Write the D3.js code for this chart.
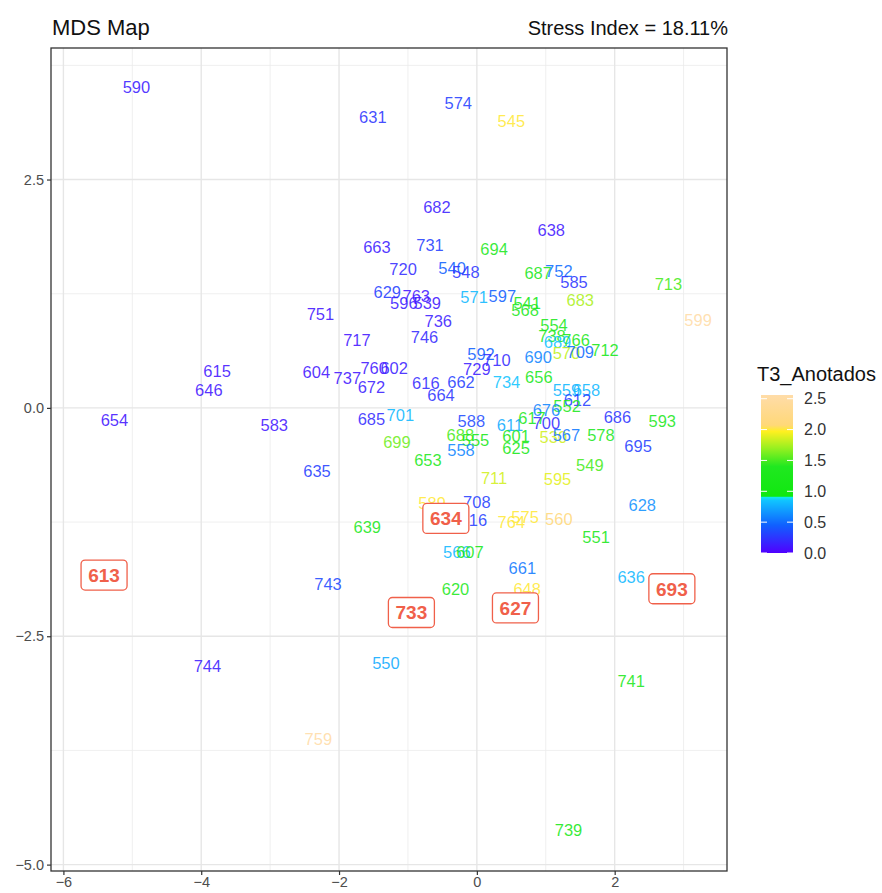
<!DOCTYPE html>
<html>
<head>
<meta charset="utf-8">
<script src="https://cdn.jsdelivr.net/npm/d3@7"></script>
<style>
body { margin: 0; background: #fff; }
text { font-family: "Liberation Sans", Arial, sans-serif; }
</style>
</head>
<body>
<svg id="chart" width="882" height="893"></svg>
<script>
// point labels, MDS coordinates and T3_Anotados value
var ids = ["590","631","574","545","682","638","663","731","694","720","540","548","687","752","585","683","713","599",
  "629","763","596","539","571","597","541","568","751","736","554","717","746","738","689","766","570","709","712","690",
  "615","646","604","737","760","602","672","616","664","662","592","729","710","734","656","559","658","612","552","676",
  "617","700","686","593","701","685","654","583","588","611","601","625","688","555","558","699","653","530","567","578",
  "695","549","595","711","635","628","589","708","716","764","575","560","551","639","566","607","661","648","620","636",
  "743","744","550","741","759","739"];
var dim1 = [-4.94,-1.51,-0.27,0.50,-0.58,1.08,-1.45,-0.68,0.25,-1.07,-0.36,-0.16,0.89,1.19,1.41,1.50,2.78,3.21,
  -1.30,-0.88,-1.06,-0.72,-0.04,0.37,0.73,0.70,-2.27,-0.56,1.12,-1.74,-0.76,1.09,1.17,1.44,1.30,1.50,1.86,0.89,
  -3.77,-3.89,-2.33,-1.88,-1.49,-1.20,-1.53,-0.74,-0.52,-0.23,0.06,0.00,0.29,0.43,0.90,1.30,1.59,1.46,1.31,1.01,
  0.80,1.01,2.04,2.69,-1.11,-1.53,-5.26,-2.94,-0.08,0.48,0.57,0.57,-0.24,-0.02,-0.23,-1.16,-0.71,1.11,1.30,1.80,
  2.34,1.64,1.17,0.25,-2.32,2.40,-0.65,0.00,-0.05,0.50,0.70,1.19,1.73,-1.59,-0.29,-0.10,0.66,0.73,-0.31,2.24,
  -2.16,-3.91,-1.32,2.24,-2.30,1.33];
var dim2 = [3.51,3.18,3.34,3.14,2.20,1.95,1.76,1.78,1.74,1.52,1.53,1.49,1.48,1.50,1.38,1.18,1.36,0.96,
  1.27,1.22,1.15,1.15,1.21,1.22,1.15,1.07,1.03,0.95,0.91,0.74,0.78,0.79,0.72,0.74,0.60,0.61,0.63,0.56,
  0.40,0.19,0.39,0.33,0.44,0.44,0.23,0.27,0.14,0.28,0.59,0.43,0.52,0.28,0.34,0.20,0.20,0.09,0.02,-0.02,
  -0.11,-0.17,-0.10,-0.14,-0.08,-0.12,-0.13,-0.19,-0.14,-0.19,-0.31,-0.44,-0.30,-0.35,-0.46,-0.37,-0.57,-0.32,-0.30,-0.30,
  -0.42,-0.63,-0.78,-0.77,-0.69,-1.06,-1.04,-1.03,-1.23,-1.25,-1.19,-1.22,-1.41,-1.31,-1.58,-1.58,-1.75,-1.98,-1.98,-1.85,
  -1.93,-2.83,-2.79,-2.99,-3.63,-4.62];
var t3 = [0.15,0.25,0.3,2.0,0.15,0.1,0.15,0.3,1.3,0.2,0.45,0.25,1.25,0.5,0.25,1.75,1.5,2.55,
  0.3,0.1,0.15,0.1,0.8,0.45,1.1,1.35,0.1,0.15,1.3,0.1,0.2,1.4,0.85,1.2,1.8,0.5,1.2,0.6,
  0.1,0.1,0.1,0.1,0.1,0.15,0.15,0.2,0.25,0.3,0.45,0.15,0.2,0.85,1.2,0.8,0.8,0.3,1.3,0.6,
  1.3,0.2,0.25,1.3,0.8,0.2,0.1,0.1,0.35,0.75,1.2,1.2,1.5,1.2,0.6,1.6,1.4,1.85,0.55,1.3,
  0.3,1.5,1.9,1.85,0.3,0.65,2.0,0.3,0.3,2.0,2.0,2.1,1.25,1.3,0.8,1.2,0.55,2.0,1.3,0.8,
  0.35,0.15,0.75,1.4,2.55,1.2];

// highlighted (boxed) labels
var hiIds = ["613","634","733","627","693"];
var hiDim1 = [-5.41,-0.45,-0.95,0.56,2.83];
var hiDim2 = [-1.83,-1.21,-2.24,-2.19,-1.98];

var xTicks = [-6,-4,-2,0,2];
var yTicks = [2.5,0,-2.5,-5];
var legendTicks = [0,0.5,1,1.5,2,2.5];
var colStops = [0,0.45,0.85,0.9,0.92,1.4,1.7,1.97,2.07,2.56];
var colValues = ["#5000ff","#1060ff","#10c4ff","#10e6f0","#10e810","#20e820","#98f020","#fff020","#ffd878","#ffdca8"];

var svg = d3.select("#chart");
var L = 51, R = 727, T = 48, B = 871;

var x = d3.scaleLinear().domain([-6.18, 3.63]).range([L, R]);
var y = d3.scaleLinear().domain([-5.07, 3.94]).range([B, T]);
var col = d3.scaleLinear().domain(colStops).range(colValues);

// grid
var grid = svg.append("g");
var xMinor = [-5,-3,-1,1,3], yMinor = [3.75,1.25,-1.25,-3.75];
grid.selectAll(".xmin").data(xMinor).enter().append("line").attr("class", "xmin")
  .attr("x1", function(d) { return x(d); }).attr("x2", function(d) { return x(d); })
  .attr("y1", T).attr("y2", B).attr("stroke", "#ebebeb").attr("stroke-width", 0.8);
grid.selectAll(".ymin").data(yMinor).enter().append("line").attr("class", "ymin")
  .attr("y1", function(d) { return y(d); }).attr("y2", function(d) { return y(d); })
  .attr("x1", L).attr("x2", R).attr("stroke", "#ebebeb").attr("stroke-width", 0.8);
grid.selectAll(".xmaj").data(xTicks).enter().append("line").attr("class", "xmaj")
  .attr("x1", function(d) { return x(d); }).attr("x2", function(d) { return x(d); })
  .attr("y1", T).attr("y2", B).attr("stroke", "#e6e6e6").attr("stroke-width", 1.4);
grid.selectAll(".ymaj").data(yTicks).enter().append("line").attr("class", "ymaj")
  .attr("y1", function(d) { return y(d); }).attr("y2", function(d) { return y(d); })
  .attr("x1", L).attr("x2", R).attr("stroke", "#e6e6e6").attr("stroke-width", 1.4);

// axes
var xAxis = svg.append("g").attr("transform", "translate(0," + B + ")")
  .call(d3.axisBottom(x).tickValues(xTicks).tickSize(4).tickPadding(2).tickFormat(d3.format("d")));
var yAxis = svg.append("g").attr("transform", "translate(" + L + ",0)")
  .call(d3.axisLeft(y).tickValues(yTicks).tickSize(4).tickPadding(3).tickFormat(d3.format(".1f")));
[xAxis, yAxis].forEach(function(a) {
  a.select(".domain").remove();
  a.selectAll(".tick line").attr("stroke", "#333").attr("stroke-width", 1.2);
  a.selectAll(".tick text").attr("fill", "#4d4d4d").style("font-size", "14.5px")
    .style("font-family", "'Liberation Sans', Arial, sans-serif");
});

// text labels
var pts = ids.map(function(d, i) { return {id: d, x: dim1[i], y: dim2[i], v: t3[i]}; });
svg.append("g").selectAll("text").data(pts).enter().append("text")
  .attr("x", function(d) { return x(d.x); })
  .attr("y", function(d) { return y(d.y); })
  .attr("dy", "0.36em")
  .attr("text-anchor", "middle")
  .style("font-size", "16.5px")
  .attr("fill", function(d) { return col(d.v); })
  .attr("fill-opacity", 0.88)
  .text(function(d) { return d.id; });

// boxed labels
var hi = hiIds.map(function(d, i) { return {id: d, x: hiDim1[i], y: hiDim2[i]}; });
var hg = svg.append("g").selectAll("g").data(hi).enter().append("g")
  .attr("transform", function(d) { return "translate(" + x(d.x) + "," + y(d.y) + ")"; });
hg.append("rect").attr("x", -23).attr("y", -15).attr("width", 46).attr("height", 30)
  .attr("rx", 4).attr("fill", "#fff").attr("stroke", "#f0604a").attr("stroke-width", 1.3);
hg.append("text").attr("text-anchor", "middle").attr("dy", "0.36em")
  .style("font-size", "19px").style("font-weight", "bold").attr("fill", "#f0604a")
  .text(function(d) { return d.id; });

// panel border
svg.append("rect").attr("x", L).attr("y", T).attr("width", R - L).attr("height", B - T)
  .attr("fill", "none").attr("stroke", "#333").attr("stroke-width", 1.3);

// titles
svg.append("text").attr("x", 52).attr("y", 35).style("font-size", "22px").attr("fill", "#111").text("MDS Map");
svg.append("text").attr("x", 728).attr("y", 35).attr("text-anchor", "end").style("font-size", "20px")
  .attr("fill", "#111").text("Stress Index = 18.11%");

// colour bar legend
var lg = svg.append("g");
var cb = d3.scaleLinear().domain([0, 2.56]).range([553, 395]);
var grad = svg.append("defs").append("linearGradient").attr("id", "cbar")
  .attr("x1", 0).attr("y1", 1).attr("x2", 0).attr("y2", 0);
grad.selectAll("stop").data(colStops).enter().append("stop")
  .attr("offset", function(d) { return d / 2.56; })
  .attr("stop-color", function(d, i) { return colValues[i]; });
lg.append("text").attr("x", 757).attr("y", 381).style("font-size", "20px").attr("fill", "#111").text("T3_Anotados");
lg.append("rect").attr("x", 761).attr("y", 395).attr("width", 32).attr("height", 158).attr("fill", "url(#cbar)");
lg.selectAll(".tkl").data(legendTicks).enter().append("line").attr("class", "tkl")
  .attr("x1", 761).attr("x2", 767).attr("y1", function(d) { return cb(d); }).attr("y2", function(d) { return cb(d); })
  .attr("stroke", "#fff").attr("stroke-width", 1);
lg.selectAll(".tkr").data(legendTicks).enter().append("line").attr("class", "tkr")
  .attr("x1", 787).attr("x2", 793).attr("y1", function(d) { return cb(d); }).attr("y2", function(d) { return cb(d); })
  .attr("stroke", "#fff").attr("stroke-width", 1);
lg.selectAll(".tlab").data(legendTicks).enter().append("text").attr("class", "tlab")
  .attr("x", 804).attr("y", function(d) { return cb(d); }).attr("dy", "0.36em")
  .style("font-size", "16px").attr("fill", "#333").text(function(d) { return d3.format(".1f")(d); });
</script>
</body>
</html>
